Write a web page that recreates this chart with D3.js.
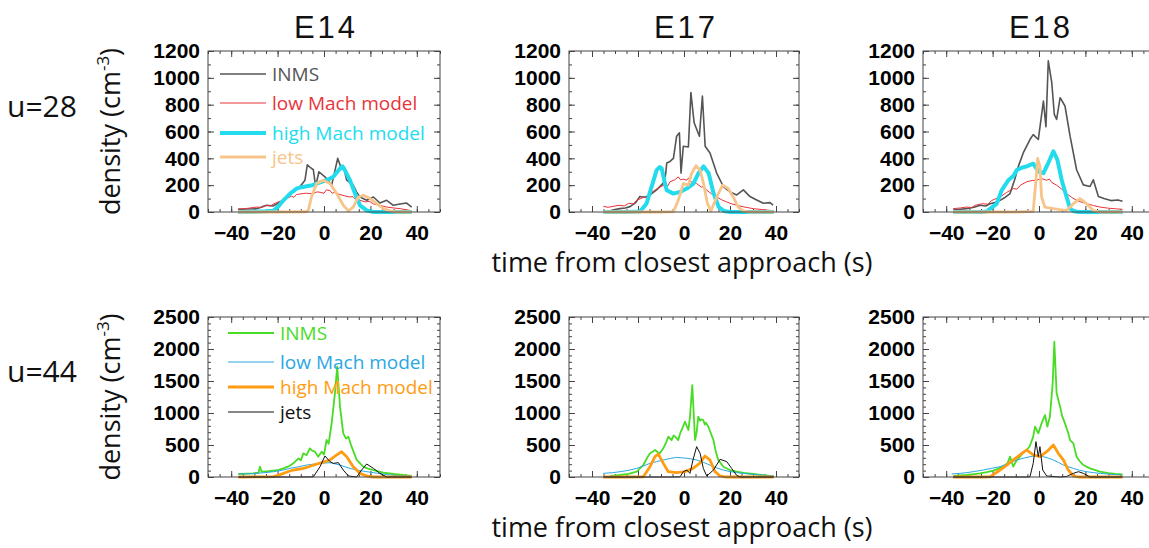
<!DOCTYPE html>
<html>
<head>
<meta charset="utf-8">
<script src="https://cdn.jsdelivr.net/npm/d3@7"></script>
<style>
  body { margin: 0; background: #fff; }
  .lab { font-family: "Open Sans", sans-serif; fill: #111; }
  .tick text { font-family: "Liberation Sans", Arial, sans-serif; font-weight: bold; font-size: 21px; fill: #000; }
  .legend text { font-family: "Open Sans", sans-serif; font-size: 19px; }
</style>
</head>
<body>
<div id="chart"></div>
<script>
// flybys and rows
const flybys = ["E14", "E17", "E18"];
const rowLabels = ["u=28", "u=44"];
const xTicks = [-40, -20, 0, 20, 40];
const yTicksTop = [0, 200, 400, 600, 800, 1000, 1200];
const yTicksBottom = [0, 500, 1000, 1500, 2000, 2500];
const seriesNames = ["INMS", "low Mach model", "high Mach model", "jets"];

// ---- u=28, values as [time (s), density (cm^-3)]
const e14Inms28 = [[-37,20],[-33,22],[-29,25],[-26.5,40],[-24.7,50],[-22,45],[-20.4,60],[-18,85],[-16.1,112],[-13.3,150],[-10.3,190],[-8.2,237],[-7.2,352],[-5.8,330],[-4.6,315],[-3.6,190],[-2.2,300],[0.4,262],[2,230],[3.3,200],[5.9,400],[7.6,318],[8.5,330],[9.8,237],[12.6,200],[14,150],[15.5,112],[18.4,87],[21.3,112],[24.1,67],[27,87],[29.9,50],[32.8,60],[35.6,67],[37.8,37]];
const e14Low28 = [[-37,22],[-34,25],[-31,32],[-29,37],[-27,33],[-25,50],[-23,45],[-21.8,60],[-19,80],[-17.5,75],[-16.1,100],[-14,118],[-13,110],[-11.8,130],[-9,138],[-7.5,140],[-5,135],[-3,150],[-1.7,147],[0,140],[1,165],[2.6,160],[3.5,140],[4.5,145],[6.9,130],[9,120],[11.2,112],[12.5,115],[13.5,95],[15.5,87],[18,75],[19.5,80],[21.3,60],[24,50],[27,37],[30,30],[32.8,25],[35,18],[37.1,12]];
const e14High28 = [[-37,0],[-30,2],[-25,5],[-21.8,10],[-19.5,45],[-17.5,87],[-14.6,137],[-11.8,175],[-9.5,185],[-7.5,192],[-5,200],[-3.2,212],[-1,225],[1.1,237],[4,262],[6.9,325],[8,340],[9,312],[10.2,270],[11.2,237],[13.4,137],[15.5,50],[18.4,12],[21.3,0],[30,0],[37.8,0]];
const e14Jets28 = [[-37,0],[-20,0],[-8,2],[-6.8,10],[-5.4,112],[-3.2,212],[-0.4,237],[2.6,212],[5.5,137],[8.3,50],[10.5,8],[12.6,37],[14.8,112],[17,125],[19.9,100],[22.7,62],[25.6,25],[28.5,8],[31,0],[37.8,0]];

const e17Inms28 = [[-32.2,10],[-30,18],[-27.9,25],[-25.5,30],[-23.5,40],[-21,70],[-19.2,115],[-17,110],[-14.8,127],[-11.9,165],[-9,215],[-8,280],[-7.5,365],[-6.1,377],[-4.6,400],[-3.2,565],[-2,590],[-1.3,290],[-0.3,490],[1.9,485],[3,890],[4.4,665],[6.7,565],[8,865],[9.2,490],[11.3,440],[14.2,290],[17.1,190],[20,150],[22.9,127],[25.8,165],[28.7,115],[31.6,90],[34.5,65],[37.4,70],[38.7,52]];
const e17Low28 = [[-35.1,42],[-33,35],[-30,45],[-27.9,50],[-26,45],[-24,65],[-22,60],[-20.6,87],[-17.5,110],[-16,105],[-14.8,137],[-12.5,165],[-10.4,187],[-8,205],[-7,195],[-6.1,225],[-4,240],[-2.5,262],[-1.5,240],[-0.5,245],[1.2,237],[2,255],[3,225],[5.5,212],[7.5,185],[8.5,190],[9.9,162],[12,135],[14.2,112],[16.5,90],[18.6,75],[20.5,62],[22.9,50],[26,38],[30.1,25],[34,18],[37.4,12],[39,10]];
const e17High28 = [[-35,0],[-25,0],[-19.2,3],[-16.3,62],[-14.1,187],[-11.9,312],[-10.5,335],[-9.7,325],[-8.5,230],[-7.5,162],[-4.6,137],[-1.7,150],[1.2,175],[4.1,212],[6.3,290],[8.5,340],[10.7,290],[12.9,137],[15.1,37],[17.3,8],[20,0],[39,0]];
const e17Jets28 = [[-35,0],[-10,0],[-4.6,3],[-2.5,87],[-0.3,212],[1.9,200],[3.3,287],[5.2,345],[7,312],[8.5,212],[10.2,62],[11.7,8],[14.2,112],[16.8,200],[19.2,175],[21.4,112],[23.6,37],[25.8,8],[28,0],[39,0]];

const e18Inms28 = [[-37,15],[-34,20],[-31.2,25],[-28,35],[-25.4,50],[-23,45],[-21.1,62],[-19,70],[-16.8,87],[-14.5,110],[-12.5,137],[-10.5,240],[-8.9,340],[-6.8,440],[-3.9,540],[-2.5,577],[-0.3,540],[1.9,827],[3,635],[4,1127],[5.5,965],[6.6,727],[7.6,690],[9.1,852],[11.2,790],[13.4,565],[16.2,315],[19.1,202],[22,190],[23.4,240],[25.6,115],[28,100],[31,85],[34,90],[36,80]];
const e18Low28 = [[-37,25],[-34,30],[-31.2,37],[-29,33],[-27.5,50],[-24.4,62],[-22,58],[-20.5,85],[-16.8,112],[-14,145],[-11.1,175],[-9.5,170],[-8,200],[-5.3,225],[-3,235],[-1,237],[1,250],[3.3,237],[4.5,245],[5.5,220],[7.6,200],[9.8,170],[11.9,137],[14,110],[16.2,87],[18.5,72],[20.5,62],[23.5,48],[26.3,37],[30,28],[33,24],[36,20]];
const e18High28 = [[-37,0],[-25,0],[-22.6,3],[-18.2,62],[-16.1,162],[-13.2,237],[-11,270],[-9.6,312],[-7.5,330],[-5.3,340],[-2.5,360],[-0.3,302],[1.9,290],[4,365],[6.2,452],[7.9,390],[9.8,237],[11.9,112],[13.4,25],[14.8,8],[17,0],[36,0]];
const e18Jets28 = [[-37,0],[-10,0],[-2.5,5],[-1.3,237],[-0.6,400],[0.4,340],[1.1,115],[2.5,37],[6.2,25],[9,18],[11.9,12],[14.8,62],[17.7,100],[20.5,62],[23.4,12],[26,0],[36,0]];

// ---- u=44
const e14Inms44 = [[-36.9,47],[-33,52],[-30.5,57],[-28.2,70],[-27.6,161],[-26.9,83],[-24,90],[-21.8,99],[-19.5,110],[-17.5,135],[-15,170],[-13.2,213],[-11,290],[-10,260],[-8.9,370],[-7.5,340],[-6.1,448],[-5,410],[-3.9,396],[-2.5,318],[-1,396],[0,350],[1.1,578],[2,520],[3.3,838],[4.7,1307],[5.7,1724],[6.9,1099],[8.3,682],[9.5,600],[10.5,630],[11.9,474],[14.1,266],[16.9,161],[19,130],[21.3,109],[25.6,68],[29.9,47],[33,35],[35.6,26],[37.8,16]];
const e14Low44 = [[-36.9,47],[-33,50],[-29,57],[-25,70],[-21.8,83],[-18,105],[-14.7,135],[-11,160],[-7.5,187],[-4.5,200],[-1.7,213],[2.6,224],[4.8,205],[6.9,187],[9,160],[11.2,135],[13.5,115],[15.5,99],[18,85],[21.3,68],[25,48],[28.4,31],[33,22],[37.1,16]];
const e14High44 = [[-36.9,0],[-25,2],[-21.8,5],[-19.5,30],[-17.5,57],[-15,90],[-13.2,109],[-10.5,125],[-8.9,135],[-6.5,160],[-4.6,187],[-1,224],[2.6,266],[5.5,344],[7.6,396],[9.8,318],[12.6,161],[15.5,57],[18.4,16],[21,0],[37.8,0]];
const e14Jets44 = [[-36.9,0],[-10,0],[-4.6,2],[-1.7,161],[0.4,328],[2.6,240],[4,213],[6.2,224],[8.3,109],[10.5,16],[14.1,0],[16.2,109],[18.4,203],[21.3,135],[24.1,57],[27,0],[37.8,0]];

const e17Inms44 = [[-32,16],[-27.8,31],[-24,50],[-20.6,83],[-17.7,187],[-16,300],[-14.8,370],[-13.5,400],[-12.6,422],[-11.5,390],[-10.5,370],[-9,448],[-8,520],[-6.8,630],[-5.4,578],[-4.5,650],[-3.9,630],[-2.5,578],[-1.5,700],[-1,734],[0.4,864],[1.9,734],[2.6,942],[3.6,1437],[4.8,578],[5.5,700],[6.2,942],[7,880],[7.5,900],[8.4,890],[9,820],[9.5,850],[10.6,786],[11.5,700],[12.8,578],[13.8,400],[14.9,266],[17.1,161],[20,109],[22.9,83],[26,65],[30.1,47],[34,30],[37.4,16],[39,12]];
const e17Low44 = [[-35.1,57],[-31,68],[-27.8,83],[-24,105],[-20.6,135],[-17.5,175],[-14.8,213],[-12,240],[-9,266],[-6,290],[-3.2,307],[-1,300],[1.2,292],[3.5,280],[5.5,266],[8.5,228],[11.3,187],[14,145],[17.1,109],[20,85],[22.9,68],[26,55],[30.1,42],[34,30],[37.4,21],[39,18]];
const e17High44 = [[-35.1,0],[-25,0],[-17.7,3],[-14.8,161],[-12.6,318],[-11.2,360],[-9,213],[-6.8,83],[-3.2,68],[0.4,83],[3.9,135],[6.8,213],[9.1,328],[11.3,266],[13.5,83],[15.7,16],[18,0],[39,0]];
const e17Jets44 = [[-35,0],[-5,0],[-1.7,3],[-0.3,83],[1.2,109],[2.6,57],[3.9,266],[5.5,474],[7,370],[8.4,135],[9.9,16],[12.8,109],[15.7,276],[18.6,240],[20.7,135],[22.9,26],[24.4,0],[39,0]];

const e18Inms44 = [[-36.9,16],[-34,24],[-31.2,31],[-28,45],[-25.4,57],[-22.5,75],[-19.7,99],[-17.5,130],[-15.4,161],[-13.5,220],[-12.5,318],[-11.1,161],[-9.8,250],[-8.2,318],[-7,380],[-5.3,422],[-4,480],[-2.5,630],[-1.7,786],[-0.3,682],[1.1,838],[2.6,968],[3.6,786],[4.7,942],[5.9,1463],[6.6,2114],[7.6,1307],[9.1,1099],[10,950],[11.2,838],[12.5,700],[13.4,578],[14.8,526],[16.2,318],[17.5,250],[19.1,187],[22,135],[26.3,83],[30,60],[33,48],[36,40]];
const e18Low44 = [[-37.6,47],[-34,57],[-31.2,68],[-27.5,88],[-24.1,109],[-20.5,135],[-16.8,161],[-13,215],[-9.6,266],[-6,300],[-2.5,328],[1.9,318],[4,295],[6.2,266],[8.5,225],[10.5,187],[12.5,160],[14.8,135],[17.5,105],[20.5,83],[23.5,68],[26.3,57],[30,45],[33,37],[36,30]];
const e18High44 = [[-37,0],[-25,0],[-21.1,3],[-16.8,109],[-13.9,187],[-11.1,266],[-8.2,344],[-5.3,422],[-2.5,344],[0.4,318],[3.3,396],[6.2,500],[8.3,370],[10.5,266],[12.6,109],[14.8,16],[17,0],[36,0]];
const e18Jets44 = [[-37,0],[-6,0],[-3.9,3],[-2.5,213],[-1.3,552],[-0.3,318],[0.4,474],[1.6,109],[3.3,16],[9.1,0],[12,10],[14.8,57],[17,83],[19.1,57],[22,0],[36,0]];

const W = 1149, H = 548;
const colLeft = [208, 569, 923];
const colWidth = [232, 230, 232];
const rows = [
  { top: 51, height: 161, yMax: 1200, ticks: yTicksTop, minor: 100,
    colors: ["#555555", "#e8343a", "#22dcee", "#f7c48a"], widths: [1.6, 1, 4, 2.8],
    data: [[e14Inms28, e14Low28, e14High28, e14Jets28], [e17Inms28, e17Low28, e17High28, e17Jets28], [e18Inms28, e18Low28, e18High28, e18Jets28]],
    legendY: [23, 52, 82, 106], legendX: 12 },
  { top: 317, height: 160, yMax: 2500, ticks: yTicksBottom, minor: 100,
    colors: ["#48dc24", "#2aa8e2", "#ff9c12", "#111111"], widths: [1.8, 1, 2.8, 1],
    data: [[e14Inms44, e14Low44, e14High44, e14Jets44], [e17Inms44, e17Low44, e17High44, e17Jets44], [e18Inms44, e18Low44, e18High44, e18Jets44]],
    legendY: [16, 45, 70, 95], legendX: 20 }
];

const svg = d3.select("#chart").append("svg")
  .attr("width", W).attr("height", H);

// column titles
flybys.forEach((f, i) => {
  svg.append("text").attr("class", "lab")
    .attr("x", colLeft[i] + colWidth[i] / 2 + 2).attr("y", 38)
    .attr("text-anchor", "middle")
    .style("font-family", "'Liberation Sans', sans-serif")
    .style("font-size", "31px").style("letter-spacing", "3px")
    .text(f);
});

rows.forEach((row, r) => {
  // row label
  svg.append("text").attr("class", "lab")
    .attr("x", 7).attr("y", row.top + row.height / 2 - 15)
    .style("font-size", "30px")
    .text(rowLabels[r]);

  // y axis title
  const yt = svg.append("text").attr("class", "lab")
    .attr("transform", `translate(120, ${row.top + row.height / 2}) rotate(-90)`)
    .attr("text-anchor", "middle")
    .style("font-size", "27px");
  yt.append("tspan").text("density (cm");
  yt.append("tspan").attr("dy", -11).style("font-size", "17px").text("-3");
  yt.append("tspan").attr("dy", 11).text(")");

  // x axis title
  svg.append("text").attr("class", "lab")
    .attr("x", 682).attr("y", row.top + row.height + 60)
    .attr("text-anchor", "middle")
    .style("font-size", "27px")
    .text("time from closest approach (s)");

  flybys.forEach((f, c) => {
    const w = colWidth[c], h = row.height;
    const g = svg.append("g").attr("transform", `translate(${colLeft[c]}, ${row.top})`);

    const x = d3.scaleLinear().domain([-50, 50]).range([0, w]);
    const y = d3.scaleLinear().domain([0, row.yMax]).range([h, 0]);

    const minorX = d3.range(-50, 51, 5);
    const minorY = d3.range(0, row.yMax + 1, row.minor);

    // minor ticks
    g.append("g").attr("transform", `translate(0,${h})`)
      .call(d3.axisBottom(x).tickValues(minorX).tickSize(-3).tickFormat(""));
    g.append("g")
      .call(d3.axisTop(x).tickValues(minorX).tickSize(-3).tickFormat(""));
    g.append("g")
      .call(d3.axisLeft(y).tickValues(minorY).tickSize(-3).tickFormat(""));
    g.append("g").attr("transform", `translate(${w},0)`)
      .call(d3.axisRight(y).tickValues(minorY).tickSize(-3).tickFormat(""));

    // major ticks
    g.append("g").attr("transform", `translate(0,${h})`)
      .call(d3.axisBottom(x).tickValues(xTicks).tickSize(-6).tickPadding(13));
    g.append("g")
      .call(d3.axisTop(x).tickValues(xTicks).tickSize(-6).tickFormat(""));
    g.append("g")
      .call(d3.axisLeft(y).tickValues(row.ticks).tickSize(-6).tickPadding(8).tickFormat(d3.format("d")));
    g.append("g").attr("transform", `translate(${w},0)`)
      .call(d3.axisRight(y).tickValues(row.ticks).tickSize(-6).tickFormat(""));

    g.selectAll(".domain").remove();
    g.selectAll(".tick line").attr("stroke", "#444");

    // series
    const line = d3.line().x(d => x(d[0])).y(d => y(d[1]));
    row.data[c].forEach((s, k) => {
      g.append("path").datum(s)
        .attr("d", line)
        .attr("fill", "none")
        .attr("stroke", row.colors[k])
        .attr("stroke-width", row.widths[k])
        .attr("stroke-linejoin", "round");
    });

    // box
    g.append("rect").attr("width", w).attr("height", h)
      .attr("fill", "none").attr("stroke", "#444").attr("stroke-width", 1);

    // legend in first column
    if (c === 0) {
      const lg = g.append("g").attr("class", "legend");
      seriesNames.forEach((name, k) => {
        const ly = row.legendY[k];
        lg.append("line")
          .attr("x1", row.legendX).attr("x2", row.legendX + 46)
          .attr("y1", ly).attr("y2", ly)
          .attr("stroke", row.colors[k]).attr("stroke-width", row.widths[k]);
        lg.append("text")
          .attr("x", row.legendX + 52).attr("y", ly + 7)
          .attr("fill", row.colors[k])
          .text(name);
      });
    }
  });
});
</script>
</body>
</html>
